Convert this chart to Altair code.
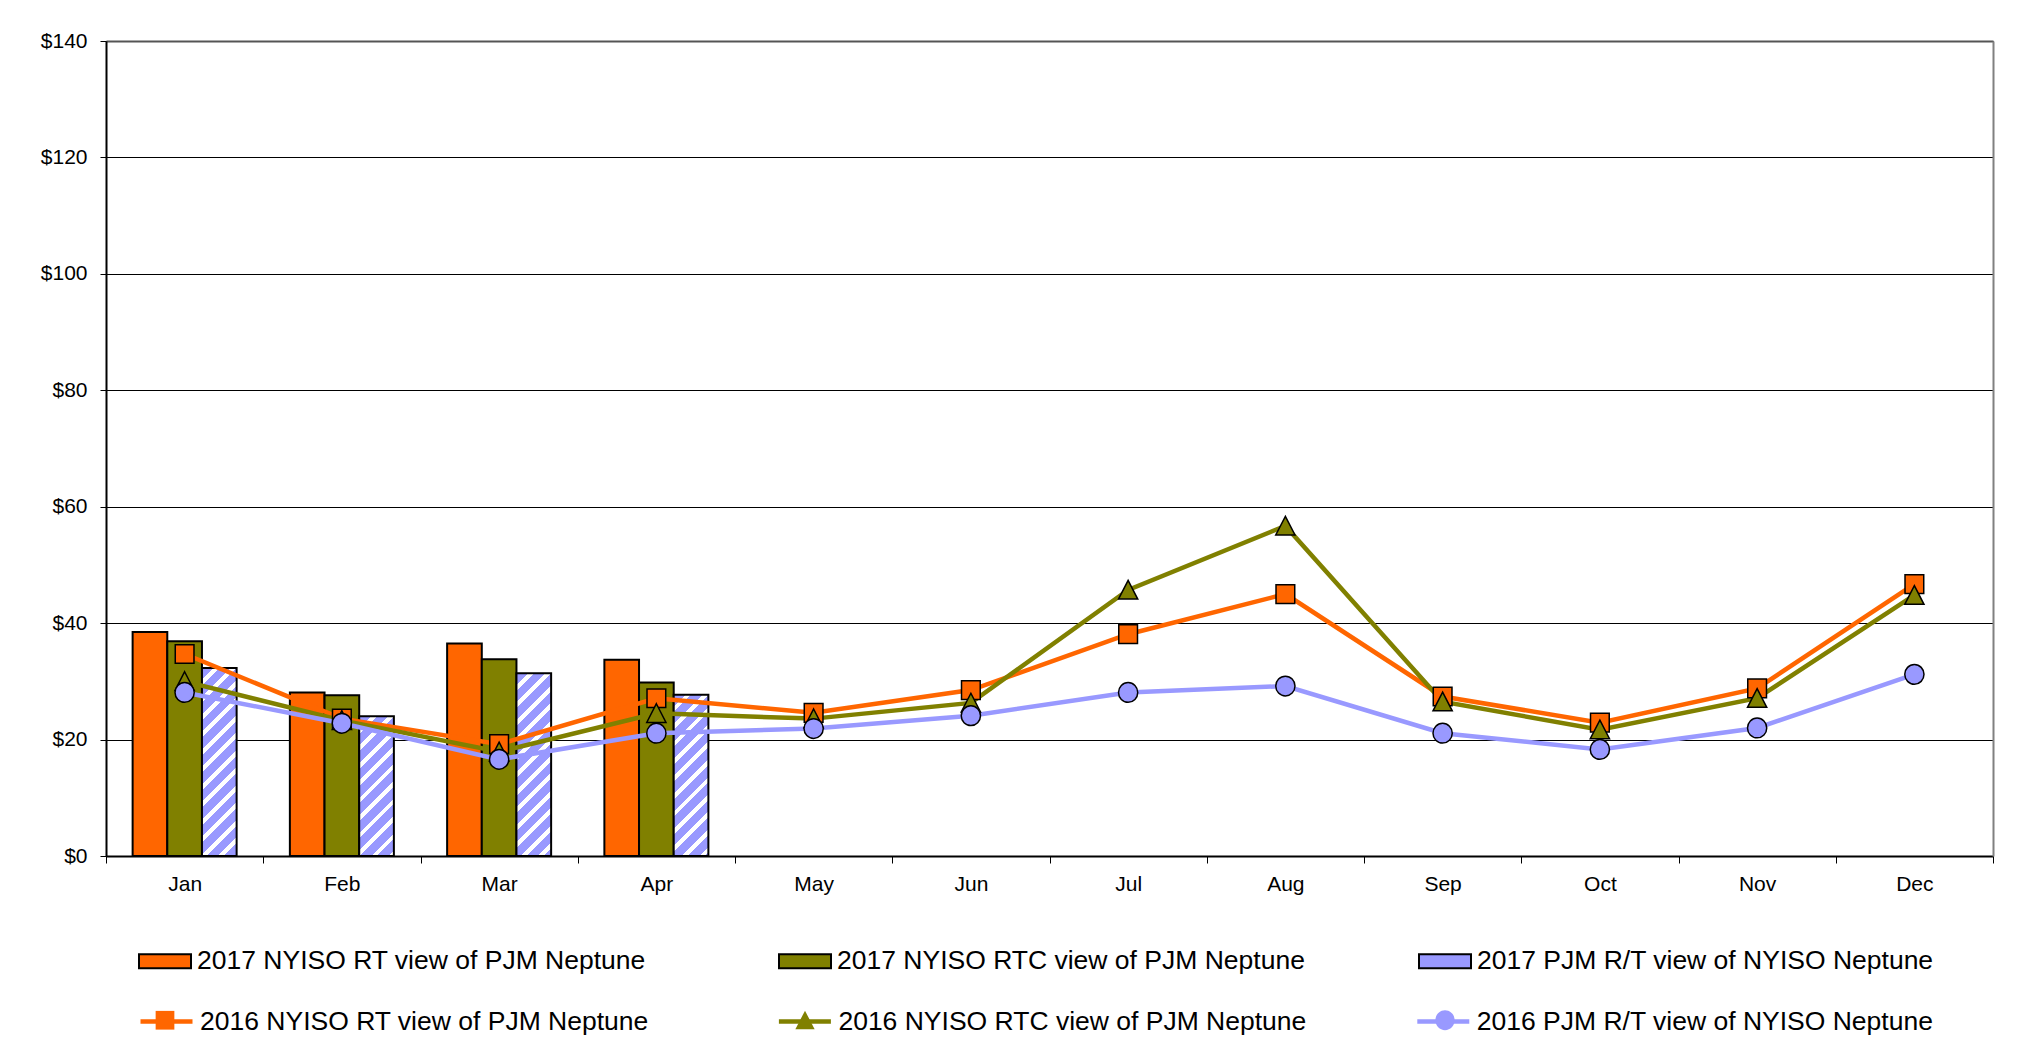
import math
import json
import altair as alt
import pandas as pd

# ---------------- data ----------------
months = ["Jan", "Feb", "Mar", "Apr", "May", "Jun", "Jul", "Aug", "Sep", "Oct", "Nov", "Dec"]
bar_months = ["Jan", "Feb", "Mar", "Apr"]

rt_2017 = [38.5, 28.1, 36.5, 33.7]
rtc_2017 = [36.9, 27.6, 33.8, 29.8]
pjm_2017 = [32.3, 24.0, 31.4, 27.7]

rt_2016 = [34.7, 23.6, 19.2, 27.1, 24.6, 28.5, 38.1, 45.0, 27.4, 22.9, 28.8, 46.7]
rtc_2016 = [30.0, 23.3, 17.9, 24.5, 23.6, 26.3, 45.7, 56.7, 26.5, 21.7, 27.1, 44.8]
pjm_2016 = [28.1, 22.8, 16.6, 21.1, 21.9, 24.1, 28.1, 29.2, 21.1, 18.3, 22.0, 31.2]

bar_series = ["2017 NYISO RT view of PJM Neptune",
              "2017 NYISO RTC view of PJM Neptune",
              "2017 PJM R/T view of NYISO Neptune"]
line_series = ["2016 NYISO RT view of PJM Neptune",
               "2016 NYISO RTC view of PJM Neptune",
               "2016 PJM R/T view of NYISO Neptune"]
y_ticks = [0, 20, 40, 60, 80, 100, 120, 140]

# ---------------- styles ----------------
ORANGE, OLIVE, LAVENDER = "#FF6600", "#808000", "#9999FF"
colors = [ORANGE, OLIVE, LAVENDER]
FONT = "Liberation Sans"
W, H = 1887, 815
Y_MAX = 140
OFFSET_PAD = 0.768
BAR_W = (W / len(months)) / (3 + 2 * OFFSET_PAD)
RECT_PATH = "M-1,-0.27H1V0.27H-1Z"

marker_paths = [
    "M-0.36,-0.36H0.36V0.36H-0.36Z",
    "M0,-0.37L0.37,0.35H-0.37Z",
    "M-0.37,0A0.37,0.38 0 1,0 0.37,0A0.37,0.38 0 1,0 -0.37,0Z",
]


def hatch(w, h, period=17.5, frac=0.66, base=LAVENDER, stripe="#FFFFFF"):
    """Diagonal '/' stripes as a bbox-relative linear gradient."""
    total = w + h
    n = math.ceil(total / period)
    stops = []
    for i in range(n):
        t0 = round(i * period / total, 4)
        t1 = round(min((i + frac) * period / total, 1.0), 4)
        t2 = round(min((i + 1) * period / total, 1.0), 4)
        stops += [{"offset": t0, "color": base}, {"offset": t1, "color": base},
                  {"offset": t1, "color": stripe}, {"offset": t2, "color": stripe}]
    k = total / (w * w + h * h)
    return {"gradient": "linear", "x1": 0, "y1": 0,
            "x2": round(k * w, 5), "y2": round(k * h, 5), "stops": stops}


# ---------------- tables ----------------
bar_rows = []
for s, vals in zip(bar_series, [rt_2017, rtc_2017, pjm_2017]):
    for m, v in zip(bar_months, vals):
        bar_rows.append({"month": m, "s17": s, "v": v})
bar_df = pd.DataFrame(bar_rows)

line_rows = []
for s, vals in zip(line_series, [rt_2016, rtc_2016, pjm_2016]):
    for m, v in zip(months, vals):
        line_rows.append({"month": m, "s16": s, "v": v})
line_df = pd.DataFrame(line_rows)

# hatched fill for each 2017 PJM bar (depends on the bar's drawn height)
bar_conditions = []
for m, v in zip(bar_months, pjm_2017):
    bar_conditions.append({
        "test": f"datum.s17 === '{bar_series[2]}' && datum.month === '{m}'",
        "value": hatch(BAR_W, v / Y_MAX * H),
    })

legend_fill_expr = (
    f"datum.value === '{bar_series[2]}' ? {json.dumps(hatch(52, 14))} : "
    f"(datum.value === '{bar_series[0]}' ? '{ORANGE}' : '{OLIVE}')"
)

# ---------------- scales / axes ----------------
x_scale = alt.Scale(domain=months, paddingInner=0, paddingOuter=0)
y_scale = alt.Scale(domain=[0, Y_MAX], nice=False, zero=True)

x_axis = alt.Axis(orient="bottom", tickBand="extent", labelAngle=0, labelFont=FONT,
                  labelFontSize=21, labelColor="black", labelPadding=10, tickSize=7,
                  tickColor="black", tickWidth=1, domainColor="black", domainWidth=2,
                  grid=False, title=None)
y_axis = alt.Axis(orient="left", values=y_ticks, format="$.0f", labelFont=FONT,
                  labelFontSize=21, labelColor="black", labelPadding=13, tickSize=6,
                  tickColor="black", tickWidth=1, domainColor="black", domainWidth=2,
                  grid=True, gridColor="black", gridWidth=1, title=None)
top_axis = alt.Axis(orient="top", labels=False, ticks=False, grid=False,
                    domainColor="#555555", domainWidth=2, title=None)
right_axis = alt.Axis(orient="right", labels=False, ticks=False, grid=False,
                      domainColor="#808080", domainWidth=2, title=None)

LEG_X = 32
legend_common = dict(orient="none", legendX=LEG_X, direction="horizontal", columns=3,
                     gridAlign="all", labelFont=FONT,
                     labelFontSize=26.5, labelColor="black", labelOffset=5, labelLimit=0,
                     symbolSize=2704, title=None, padding=0)

leg_bar = alt.Legend(legendY=893, columnPadding=110,
                     symbolStrokeColor="black", symbolStrokeWidth=2,
                     symbolOpacity=1, symbolFillColor=alt.ExprRef(expr=legend_fill_expr),
                     **legend_common)
leg_line = alt.Legend(legendY=952, columnPadding=101.4,
                      symbolType="stroke", symbolStrokeWidth=4.5, **legend_common)
leg_marker = alt.Legend(legendY=952, columnPadding=581,
                        symbolStrokeColor="black", symbolStrokeWidth=1.5,
                        symbolOpacity=1, labelExpr="''", **legend_common)

# ---------------- layers ----------------
bars = alt.Chart(bar_df).mark_bar(stroke="black", strokeWidth=2).encode(
    x=alt.X("month:N", sort=months, scale=x_scale, axis=x_axis),
    xOffset=alt.XOffset("s17:N", sort=bar_series,
                        scale=alt.Scale(domain=bar_series, paddingInner=0, paddingOuter=OFFSET_PAD)),
    y=alt.Y("v:Q", scale=y_scale, axis=y_axis),
    fill=alt.Fill("s17:N", scale=alt.Scale(domain=bar_series, range=colors),
                  legend=None, condition=bar_conditions),
)

# legend carrier for the 2017 bars (no marks drawn: data filtered away)
bar_key = alt.Chart(bar_df).transform_filter("false").mark_point(
    filled=True, stroke="black", opacity=1
).encode(
    fill=alt.Fill("s17:N", scale=alt.Scale(domain=bar_series, range=colors), legend=None),
    shape=alt.Shape("s17:N", scale=alt.Scale(domain=bar_series, range=[RECT_PATH] * 3),
                    legend=leg_bar),
)

lines = alt.Chart(line_df).mark_line(strokeWidth=4.5).encode(
    x=alt.X("month:N", sort=months, scale=x_scale, axis=top_axis),
    y=alt.Y("v:Q", scale=y_scale, axis=right_axis),
    stroke=alt.Stroke("s16:N", scale=alt.Scale(domain=line_series, range=colors), legend=leg_line),
)

points = alt.Chart(line_df).transform_calculate(s16p="datum.s16").mark_point(
    filled=True, size=2704, stroke="black", strokeWidth=1.5, opacity=1
).encode(
    x=alt.X("month:N", sort=months, scale=x_scale, axis=None),
    y=alt.Y("v:Q", scale=y_scale, axis=None),
    fill=alt.Fill("s16p:N", scale=alt.Scale(domain=line_series, range=colors), legend=leg_marker),
    shape=alt.Shape("s16p:N", scale=alt.Scale(domain=line_series, range=marker_paths), legend=leg_marker),
)

chart = alt.layer(bars, bar_key, lines, points).resolve_axis(
    x="independent", y="independent"
).resolve_scale(
    fill="independent", shape="independent"
).properties(
    width=W, height=H,
    autosize=alt.AutoSizeParams(type="none"),
    padding={"left": 98, "top": 33, "right": 16, "bottom": 188},
    background="white",
).configure_view(strokeWidth=0)

chart.save("out.html", embed_options={"renderer": "svg", "actions": False})
